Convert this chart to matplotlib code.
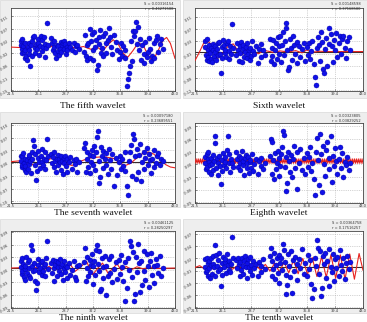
import numpy as np
import matplotlib.pyplot as plt
from matplotlib.patches import Rectangle
from matplotlib.ticker import FuncFormatter

# sample positions shared by all panels
x_obs = [
    22.8, 22.8, 22.9, 23.0, 23.0, 23.1, 23.2, 23.3, 23.3, 23.4, 23.5, 23.6, 23.7, 23.8, 23.8, 23.9, 24.0, 24.1, 24.2, 24.3,
    24.4, 24.5, 24.6, 24.7, 24.8, 24.9, 25.0, 25.1, 25.2, 25.3, 25.4, 25.5, 25.6, 25.7, 25.8, 25.9, 26.0, 26.1, 26.2, 26.4,
    26.8, 26.9, 27.0, 27.1, 27.2, 27.3, 27.4, 27.5, 27.6, 27.7, 27.8, 27.9, 28.0, 28.1, 28.2, 28.3, 28.4, 28.5, 28.6, 28.7,
    28.8, 28.9, 29.1, 29.3, 29.5, 29.7, 29.9, 30.0, 30.2, 30.4,
    31.1, 31.2, 31.3, 31.4, 31.5, 31.6, 31.8, 31.9, 32.0, 32.1, 32.2, 32.3, 32.4, 32.5, 32.6, 32.8, 32.9, 33.0, 33.1, 33.2,
    33.3, 33.4, 33.5, 33.6, 33.8, 33.9, 34.0, 34.2, 34.3, 34.5, 34.6, 34.8, 35.0, 35.2, 35.4,
    35.6, 35.8, 35.9, 36.1, 36.2, 36.4, 36.5, 36.7, 36.8, 37.0, 37.1, 37.2, 37.4, 37.5, 37.6, 37.8, 37.9, 38.0, 38.2, 38.3,
    38.4, 38.6, 38.7, 38.9, 39.0, 39.1, 39.3, 39.4, 39.6, 39.7, 39.9, 40.0, 40.2, 40.3, 40.5, 40.7, 40.8, 41.0, 41.2, 41.4,
]

# observed values, in units of 0.01
y_fifth = [
    2.5, 1.0, -0.5, 3.0, -2.0, 0.5, -1.5, -3.5, 1.8, -0.8, -2.8, -4.5, 0.2, 1.5, -1.0, -2.2, -6.6, 0.8, 2.2, -3.0,
    3.6, 4.0, -1.8, 0.0, 1.2, -0.5, 3.2, 1.8, -2.5, 0.6, 4.2, 2.6, -1.2, 0.4, 3.8, -3.2, 1.4, -0.2, 8.6, 0.9,
    3.5, 1.8, -0.8, 2.4, 0.2, -2.0, -3.8, 1.0, -1.2, 0.6, -2.6, -0.4, 2.0, -1.6, 0.8, 1.5, -0.6, 2.2, 1.2, -2.2,
    0.4, -1.0, 1.8, 0.2, -0.8, 1.6, -1.4, 0.6, 1.0, -0.4,
    -1.5, 4.5, -2.8, 0.8, -4.2, 1.8, -3.5, 6.5, 2.5, 4.8, -1.0, -4.5, 5.5, 0.2, 2.8, -7.8, -6.2, 1.2, 3.6, 6.2,
    -2.0, 0.0, 4.2, -3.0, 5.0, 1.5, -1.8, 2.6, 6.8, 3.8, 0.4, -2.4, 4.6, 2.0, -0.8,
    -4.0, -1.5, 1.5, -2.8, 0.5, -0.8, -3.8, -13.4, -11.2, -9.0, -6.5, 2.5, -4.8, 6.0, 4.2, 5.8, 8.9, 1.2, 7.2, -1.0,
    3.0, -4.4, 0.8, -2.2, -5.4, 2.0, -3.4, -1.4, 3.4, -0.6, -4.6, -2.8, 1.8, -3.8, 2.8, 4.0, -1.6, 1.2, 3.2, -0.4,
]
y_sixth = [
    3.2, 1.5, -1.0, 3.8, -2.5, 0.4, -1.8, -3.0, 2.0, -0.5, -2.2, 1.0, -3.2, 0.6, 2.4, -1.4, -0.2, 1.8, -2.6, 0.8,
    -1.2, 2.6, 3.0, -0.8, -6.6, -2.0, 1.4, 3.5, 2.2, -0.4, 0.6, -1.6, 2.8, 3.4, -2.4, 0.2, 1.6, -0.6, 8.5, 1.2,
    -1.0, 2.6, 0.4, -2.8, 1.8, -0.4, 3.0, -3.4, 0.8, 2.2, -1.6, 0.0, 1.4, -2.0, 2.8, -0.8, 0.6, -2.6, 1.2, -1.4,
    3.2, 0.2, -0.6, 1.6, -3.6, 0.8, -1.8, 2.4, 0.4, -1.2,
    4.0, -3.0, 1.0, -1.5, 3.6, -3.8, 0.6, 2.6, -2.2, 4.4, 1.6, -0.8, 5.0, -3.2, 2.0, 6.2, -1.2, 3.2, 9.0, 7.5,
    0.4, -5.8, -4.8, 3.8, 1.2, -2.6, 4.8, 2.2, -0.6, 3.0, -3.6, 1.8, -1.6, 0.8, 2.8,
    -3.0, 1.4, -1.0, 2.6, -2.2, 0.2, 3.4, -4.0, -7.9, -10.3, 1.0, 4.6, 2.0, -2.8, 6.0, 3.0, -5.3, -6.6, 0.8, 4.2,
    -4.6, 2.4, 7.5, 5.4, 1.6, -3.4, 3.6, 0.4, 5.8, -1.8, 2.8, 4.8, -0.6, 3.8, 5.0, 1.2, -2.0, 3.2, 4.4, 0.6,
]
y_seventh = [
    2.0, 0.5, -1.0, 1.8, -0.5, 2.6, 0.0, -1.8, 1.2, -0.8, -2.2, 0.8, -1.4, 1.6, 2.2, -0.2, 0.6, -2.6, 1.0, 3.0,
    6.0, 4.5, -0.4, 2.4, -4.4, -2.0, 1.4, 3.2, 0.4, -1.2, 2.0, 0.2, 3.6, -0.6, 1.0, 2.8, -1.6, 0.8, 6.4, 1.8,
    2.4, 0.0, 1.6, -1.0, 2.8, 0.6, -2.4, 1.2, 2.2, -0.4, 1.0, 0.2, -1.8, 1.8, 0.6, -2.8, 1.4, 0.0, 2.0, -0.8,
    1.2, -2.2, 0.4, 1.6, -1.4, 0.8, -0.2, 1.0, -2.4, 0.2,
    4.0, 5.2, -2.4, 1.2, 3.0, -1.0, 2.2, -2.6, 0.4, 3.4, 1.8, -0.6, 4.6, -1.8, 2.8, 6.9, 8.4, 0.6, -5.1, -3.6,
    4.2, 2.0, -1.2, 3.2, 1.0, -0.4, 2.6, -2.8, 3.8, 0.8, -1.6, 2.4, -6.0, 1.4, -3.2,
    0.2, 2.0, -1.4, 1.0, -0.8, 3.0, -2.0, -6.0, -8.2, 0.6, 2.8, 4.7, -3.4, 7.5, 6.4, 1.8, -4.2, 3.6, -2.4, 2.2,
    5.0, -4.6, 0.4, 3.0, -1.6, 1.4, 4.0, -0.6, 2.4, 0.8, -2.6, 1.0, 3.4, -1.0, 0.0, 1.8, 2.6, -0.4, 1.2, 0.6,
]
y_eighth = [
    1.8, 0.2, -1.2, 2.4, -0.6, 1.2, 3.0, -1.8, 0.6, -0.2, -2.2, 1.6, 0.0, 2.2, -1.4, 0.8, 5.0, 6.6, -0.8, 1.4,
    -2.6, 0.4, 2.0, -0.4, -4.6, -1.6, 1.0, 2.6, -0.2, 0.6, 1.8, -1.0, 3.4, 6.6, 0.2, 2.4, -1.8, 1.2, 0.4, -0.6,
    2.8, 1.2, -0.6, 2.0, 0.4, -1.4, 1.6, 3.2, -0.2, 0.8, -2.6, 1.4, 2.2, -1.0, 0.2, 1.8, -2.0, 0.6, 1.0, -0.8,
    2.4, -1.6, 0.0, 1.2, -2.2, 0.8, -0.4, 1.6, -1.2, 0.4,
    2.0, 6.0, -2.4, 5.4, 1.0, -3.4, 2.6, -1.2, 0.4, 3.2, -2.8, 1.6, -0.4, 2.4, 4.0, 8.0, 7.0, -0.6, 1.8, -6.4,
    -4.4, 3.0, 0.8, -1.8, 2.2, -3.0, 1.2, 4.4, -0.8, 2.8, -5.8, 0.2, 3.6, -1.4, 1.4,
    -2.4, 2.6, -0.6, 1.8, 4.0, -1.6, 0.4, -3.6, -7.2, 3.0, 6.2, 1.0, -5.0, 7.2, 2.4, -6.6, 4.4, 0.0, -2.8, 3.4,
    5.4, -1.2, 1.6, 6.6, -4.2, 2.0, -0.4, 3.8, 0.8, -2.2, 1.2, 4.2, -1.0, 2.6, -3.0, 0.6, -0.2, 1.8, -1.4, 0.4,
]
y_ninth = [
    2.2, 0.6, -1.0, 2.8, -0.4, 1.4, -1.8, 0.2, -2.4, 1.0, 3.0, -0.8, 1.8, -1.4, 0.4, 2.4, -2.0, 6.0, 4.8, 0.8,
    -0.2, 1.6, -2.8, 0.0, -4.8, -3.3, 1.2, 2.6, -0.6, 0.4, 1.8, -1.2, 2.2, -0.4, 0.8, -1.6, 1.4, 2.8, 6.8, 0.2,
    1.6, -0.8, 2.4, 0.4, -2.8, 1.2, 2.0, -1.4, 0.6, 1.8, -0.2, 2.6, -1.0, 0.8, 1.4, -2.4, 0.2, 2.2, -0.6, 1.0,
    -2.0, 0.6, 1.6, -1.2, 0.0, 2.0, -1.8, -2.4, 0.8, 1.2,
    1.8, 5.2, -2.6, 3.0, 0.4, -1.6, 2.4, -0.6, 1.2, 3.8, -3.4, 0.8, 2.0, -1.2, 4.8, 6.0, 1.4, -0.2, 4.4, -5.2,
    -4.6, 2.8, 0.6, -2.0, 3.4, -6.0, 1.0, -1.4, 2.6, -0.8, 3.2, -3.0, 0.2, 1.8, -2.2,
    2.4, -1.0, 3.6, 0.6, -2.6, 1.8, -7.6, -4.4, 2.8, 0.0, 6.8, 5.6, -1.8, 4.2, -7.6, -5.8, 3.0, -0.6, 6.2, 1.6,
    -5.4, 2.2, -3.6, 4.6, -0.2, -2.4, 3.8, 1.0, -4.2, 2.0, 4.0, -1.2, 0.8, -3.2, 2.6, 1.2, -0.8, 3.2, -1.6, 0.4,
]
y_tenth = [
    1.6, 0.0, -1.2, 2.0, -0.8, 0.8, -2.0, 1.2, -0.4, -2.6, 0.4, 1.8, -1.6, 0.6, 2.4, -0.2, -2.2, 4.7, 2.6, 0.2,
    -1.0, 1.4, 3.0, -0.6, -4.3, -1.8, 0.8, 2.2, -0.2, 1.0, 1.6, -1.4, 2.8, 0.4, -0.8, 1.2, -1.2, 0.6, 6.5, 1.8,
    1.4, -0.4, 2.0, 0.6, -2.2, 1.0, -0.8, 1.8, 0.2, -1.6, 1.2, 2.4, -0.2, 0.8, -2.6, 1.6, 0.0, -1.0, 2.2, 0.4,
    -1.8, 1.2, -0.4, 0.6, -2.0, 1.0, 0.2, -1.2, 1.6, -0.6,
    2.4, 4.2, -2.0, 1.2, -0.6, 3.0, -2.8, 0.4, 1.8, -1.4, 2.6, -3.6, 0.8, 2.0, -0.8, 5.0, 3.6, 1.0, -1.8, -6.1,
    -4.0, 2.8, 0.2, -2.4, 3.4, -5.8, 1.4, -1.0, 2.2, 0.6, -3.0, 1.6, -0.4, 3.8, -1.6,
    0.8, -2.2, 2.6, -0.6, 1.4, -3.8, -7.0, -5.0, 2.0, 0.2, 5.8, 4.2, -1.6, 3.4, -6.6, -4.8, 2.4, 0.6, 3.0, -2.6,
    1.2, -4.4, 4.0, 0.0, -1.2, 2.8, -3.2, 1.6, -0.4, 2.2, -2.0, 3.6, 0.4, -1.0, 1.8, -2.8, 0.8, 2.4, -0.6, 1.0,
]

# wavelet components (red curves)
wave5_x = [21.5, 23.0, 24.5, 26.0, 27.0, 28.0, 29.0, 30.0, 31.0, 32.0, 32.8, 33.5, 34.2, 34.9,
           35.6, 36.2, 36.8, 37.5, 38.2, 38.9, 39.5, 40.1, 40.8, 41.4, 41.9, 42.4, 43.0]
wave5_y = [0.2, 0.0, 0.5, -0.2, 0.6, -0.2, 0.3, -0.1, 0.4, -0.6, 0.2, -1.2, 1.0, 2.8,
           1.0, -2.0, -3.4, -1.0, 1.8, 0.5, -3.0, -4.6, -1.0, 2.6, 3.6, 1.5, -3.8]
wave6_x = [21.5, 22.0, 22.6, 23.2, 23.7, 24.3, 24.8, 25.3, 25.9, 26.4, 26.9, 27.5, 28.1, 28.6,
           29.1, 29.7, 30.3, 30.9, 31.6, 32.4, 33.4, 34.4, 35.2, 35.8, 36.5, 37.5, 38.5, 43.0]
wave6_y = [-2.8, -0.5, 2.6, 3.1, 2.0, -2.2, -1.5, 0.6, 2.0, 2.4, 0.6, -1.0, 0.4, 0.9,
           -0.4, -0.6, 0.4, 0.1, -0.3, 0.2, -0.1, 0.3, -0.4, 0.5, -0.2, 0.1, 0.0, 0.0]
wave7_x = [21.5, 22.5, 23.5, 24.5, 25.5, 26.5, 27.3, 28.0, 28.8, 29.5, 30.3, 31.0, 32.0, 33.0,
           34.0, 35.0, 35.8, 36.5, 37.2, 38.0, 38.8, 39.5, 40.2, 41.0, 41.8, 42.4, 43.0]
wave7_y = [0.4, 0.6, 0.2, -0.5, 0.0, 1.0, 1.6, 1.0, -0.2, -0.6, 0.2, 0.8, 1.4, 1.6,
           1.6, 1.2, 0.0, -0.6, 0.0, 1.4, 2.6, 2.9, 2.4, 1.0, -0.4, -1.0, -1.2]
wave8_y = [1.3, 0.2] * 90
wave9_x = [21.5, 23.0, 24.5, 25.2, 25.8, 26.5, 27.2, 27.9, 28.6, 29.3, 29.9, 30.6, 31.4, 32.2,
           32.9, 33.5, 34.2, 34.8, 35.4, 36.0, 36.6, 37.3, 38.0, 38.8, 39.6, 40.5, 43.0]
wave9_y = [0.4, 0.5, 0.3, 0.9, 0.0, 0.8, -0.2, 1.0, 0.0, 1.2, -0.4, 0.6, 2.0, -1.2,
           0.4, 1.6, -0.8, 0.2, 1.4, -0.2, 0.8, 0.0, 0.7, 0.2, 0.6, 0.3, 0.4]
wave10_x = [21.5, 22.1, 22.7, 23.3, 23.9, 24.5, 25.1, 25.7, 26.3, 26.9, 27.5, 28.1, 28.7, 29.3,
            29.9, 30.5, 31.1, 31.7, 32.3, 32.9, 33.5, 34.1, 34.7, 35.3, 35.9, 36.5, 37.1, 37.7,
            38.3, 38.9, 39.5, 40.1, 40.7, 41.3, 41.9, 42.5, 43.0]
wave10_y = [-0.2, 0.2, -0.5, 0.1, -0.6, 0.2, -0.5, 0.1, -0.6, 0.2, -0.6, 0.3, -0.7, 0.3,
            -0.8, 0.5, -1.0, 0.8, -1.2, 1.0, -1.4, 1.4, -1.6, 1.8, -1.8, 2.0, -2.2, 2.2,
            -2.4, 2.6, -2.6, 2.6, -2.8, 2.8, -2.8, 2.9, -0.8]

titles = ['The fifth wavelet', 'Sixth wavelet', 'The seventh wavelet',
          'Eighth wavelet', 'The ninth wavelet', 'The tenth wavelet']
stats = [('S = 0.00316154', 'r = 0.46271588'), ('S = 0.00148598', 'r = 0.37168580'),
         ('S = 0.00097180', 'r = 0.23689551'), ('S = 0.00323805', 'r = 0.03829252'),
         ('S = 0.00461125', 'r = 0.28250297'), ('S = 0.00364758', 'r = 0.17516257')]
mean_lines = [None, 0.0, 0.4, 0.7, 0.4, -0.2]
y_ticks = [[-15, -10.67, -6.33, -2, 2.33, 6.67, 11],
           [-12, -8.2, -4.4, -0.6, 3.2, 7, 10.8],
           [-10, -6.67, -3.33, 0, 3.33, 6.67, 10],
           [-9, -6, -3, 0, 3, 6, 9],
           [-9, -6, -3, 0, 3, 6, 9],
           [-9, -6.3, -3.6, -0.9, 1.8, 4.5, 7.2]]
y_lims = [(-15.3, 14), (-12.3, 13.6), (-10.4, 10.5), (-9.2, 9.8), (-9.2, 9.3), (-9.2, 7.9)]
x_ticks = [21.5, 25.1, 28.7, 32.2, 35.8, 39.4, 43.0]

ys = [y_fifth, y_sixth, y_seventh, y_eighth, y_ninth, y_tenth]
waves = [(wave5_x, wave5_y), (wave6_x, wave6_y), (wave7_x, wave7_y),
         (np.linspace(21.5, 43.0, len(wave8_y)), wave8_y),
         (wave9_x, wave9_y), (wave10_x, wave10_y)]

W, H = 367.0, 322.0
fig = plt.figure(figsize=(W / 100, H / 100), dpi=100)

# pixel boxes: (left, right) per column, (top, bottom) per row
cols_ax = [(11, 175), (195, 363)]
rows_ax = [(8, 91), (123, 203), (231, 308)]
cols_fr = [(0, 180), (183, 367)]
rows_fr = [(0, 98), (112, 207), (219, 313)]
title_y = [106, 213, 318]

fmt = FuncFormatter(lambda v, p: '%.2f' % (v / 100))

for i in range(6):
    r, c = divmod(i, 2)
    fx0, fx1 = cols_fr[c]
    fy0, fy1 = rows_fr[r]
    fig.patches.append(Rectangle((fx0 / W, 1 - fy1 / H), (fx1 - fx0) / W, (fy1 - fy0) / H,
                                 transform=fig.transFigure, facecolor='#eeeeee',
                                 edgecolor='#d8d8d8', lw=0.5, zorder=-5))
    ax0, ax1 = cols_ax[c]
    ay0, ay1 = rows_ax[r]
    ax = fig.add_axes([ax0 / W, 1 - ay1 / H, (ax1 - ax0) / W, (ay1 - ay0) / H])
    ax.set_zorder(2)
    ax.set_facecolor('white')

    if mean_lines[i] is not None:
        ax.axhline(mean_lines[i], color='#3a2a2a', lw=0.8, zorder=2)
    wx, wy = waves[i]
    ax.plot(wx, wy, color='#e8231f', lw=0.8 if i != 3 else 0.7, zorder=3)
    ax.scatter(x_obs, ys[i], s=13, color='#1010e8', edgecolors='#0000a8',
               linewidths=0.3, zorder=4)

    ax.set_xlim(21.5, 43.0)
    ax.set_ylim(*y_lims[i])
    ax.set_xticks(x_ticks)
    ax.set_xticklabels(['%.1f' % v for v in x_ticks])
    ax.set_yticks(y_ticks[i])
    ax.yaxis.set_major_formatter(fmt)
    ax.grid(True, color='#aaaaaa', ls=':', lw=0.5)
    ax.tick_params(labelsize=2.6, length=1.5, width=0.4, direction='in', pad=1,
                   colors='#333333')
    for lab in ax.get_yticklabels():
        lab.set_rotation(30)
    for s in ax.spines.values():
        s.set_color('#444444')
        s.set_linewidth(0.6)

    s1, s2 = stats[i]
    fig.text((ax1 - 2) / W, 1 - (fy0 + 2) / H, s1 + '\n' + s2, ha='right', va='top',
             fontsize=2.6, color='#333333', linespacing=1.2)
    fig.text((ax0 + ax1) / 2 / W, 1 - title_y[r] / H, titles[i], ha='center',
             va='center', fontsize=6.8, family='Liberation Serif', color='#111111')

fig.savefig('out.png', dpi=100, facecolor='white')
